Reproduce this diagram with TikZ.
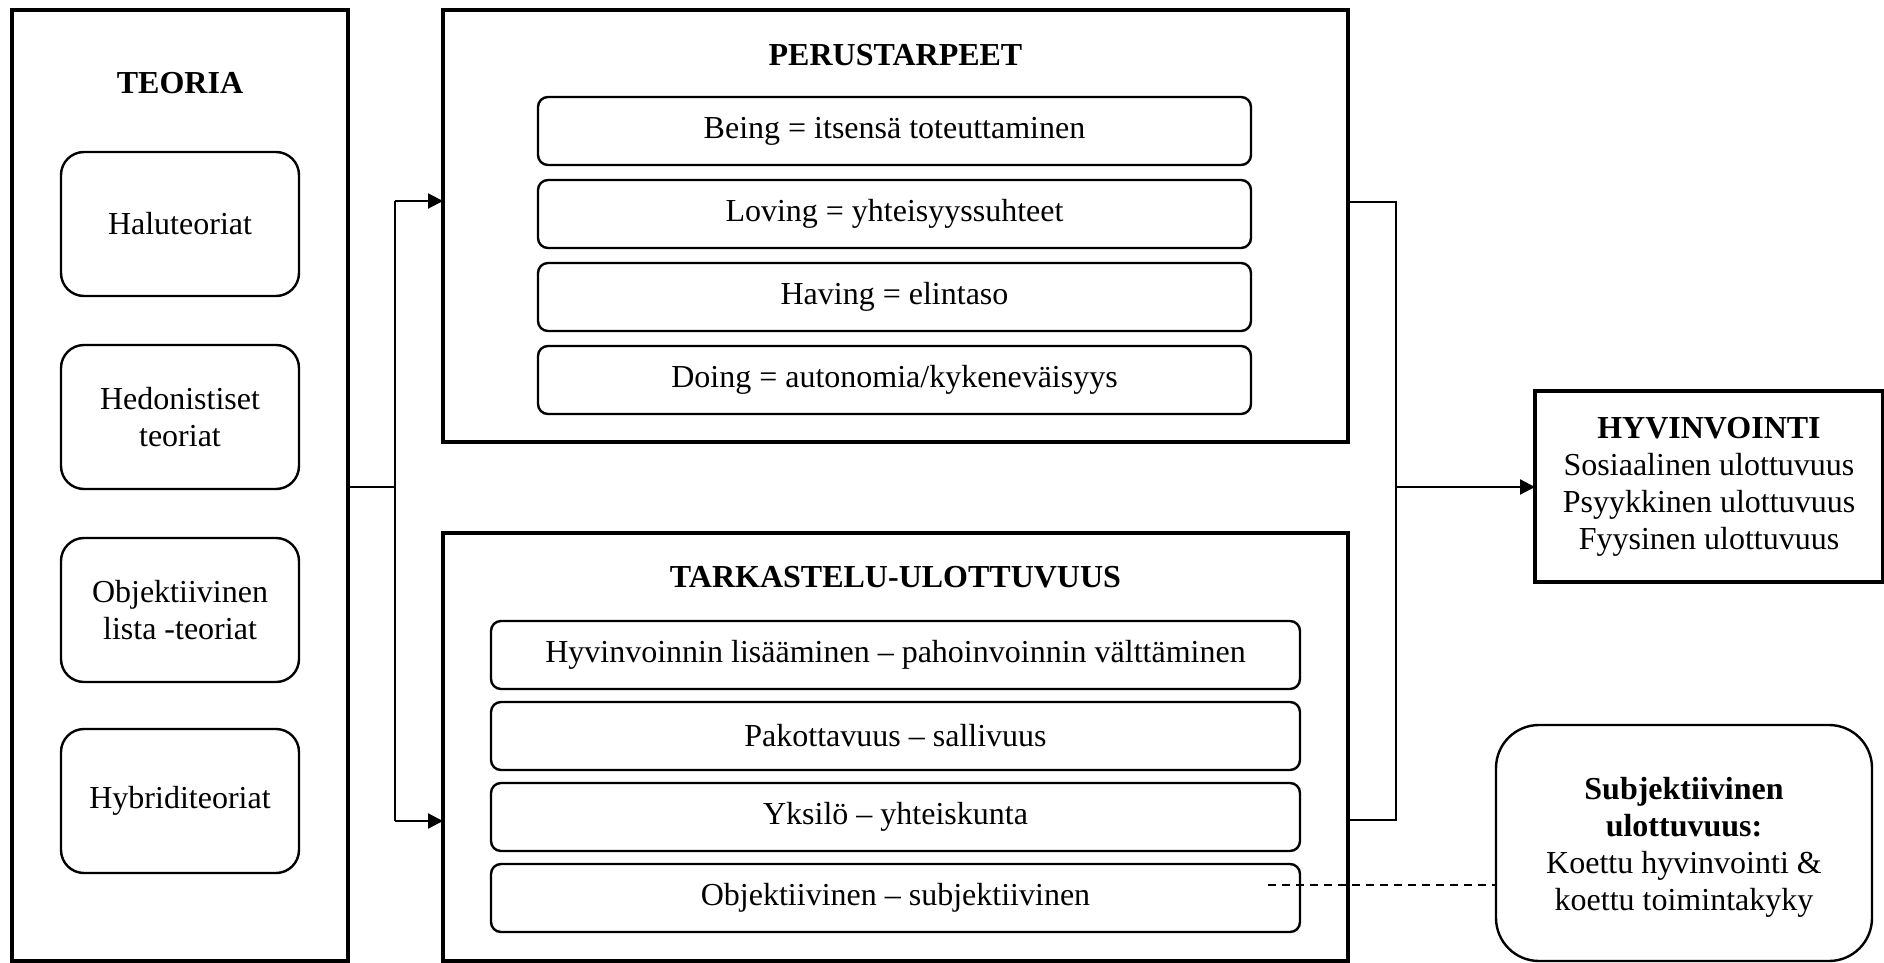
\documentclass[tikz,border=0pt]{standalone}
\usepackage{fontspec}
\setmainfont{Liberation Serif}
\usetikzlibrary{arrows.meta}
\begin{document}
\begin{tikzpicture}[x=1pt,y=-1pt,
  every node/.style={font=\fontsize{32}{37}\selectfont, inner sep=0pt, outer sep=0pt},
  bigbox/.style={draw, line width=3.8pt},
  theorybox/.style={draw, line width=2.4pt, rounded corners=23pt, minimum width=238pt, minimum height=144pt, align=center},
  itembox/.style={draw, line width=2.4pt, rounded corners=10pt, minimum height=68pt, align=center},
  title/.style={font=\fontsize{32}{37}\selectfont\bfseries},
  conn/.style={line width=2.2pt},
  arr/.style={-{Triangle[length=15pt,width=15pt]}},
  dline/.style={line width=2pt, dash pattern=on 8pt off 6pt}
]
\useasboundingbox (0,0) rectangle (1884,963);
% TEORIA
\node[bigbox, minimum width=336pt, minimum height=951pt] (teoria) at (180,485.5) {};
\node[title] (teoriaT) at (180,83) {TEORIA};
\node[theorybox] (halu) at (180,224) {Haluteoriat};
\node[theorybox] (hedo) at (180,417) {Hedonistiset\\teoriat};
\node[theorybox] (obj) at (180,610) {Objektiivinen\\lista -teoriat};
\node[theorybox] (hyb) at (180,801) {Hybriditeoriat};
% PERUSTARPEET
\node[bigbox, minimum width=905pt, minimum height=432pt] (perus) at (895.5,226) {};
\node[title] (perusT) at (895.5,55) {PERUSTARPEET};
\node[itembox, minimum width=713pt] (being) at (894.5,131) {Being = itsensä toteuttaminen};
\node[itembox, minimum width=713pt] (loving) at (894.5,214) {Loving = yhteisyyssuhteet};
\node[itembox, minimum width=713pt] (having) at (894.5,297) {Having = elintaso};
\node[itembox, minimum width=713pt] (doing) at (894.5,380) {Doing = autonomia/kykeneväisyys};
% TARKASTELU-ULOTTUVUUS
\node[bigbox, minimum width=905pt, minimum height=428pt] (tark) at (895.5,747) {};
\node[title] (tarkT) at (895.5,577) {TARKASTELU-ULOTTUVUUS};
\node[itembox, minimum width=809pt] (t1) at (895.5,655) {Hyvinvoinnin lisääminen – pahoinvoinnin välttäminen};
\node[itembox, minimum width=809pt] (t2) at (895.5,736) {Pakottavuus – sallivuus};
\node[itembox, minimum width=809pt] (t3) at (895.5,817) {Yksilö – yhteiskunta};
\node[itembox, minimum width=809pt] (t4) at (895.5,898) {Objektiivinen – subjektiivinen};
% HYVINVOINTI
\node[draw, line width=4pt, minimum width=348pt, minimum height=191pt, align=center] (hyv) at (1709,486.5)
  {\textbf{HYVINVOINTI}\\Sosiaalinen ulottuvuus\\Psyykkinen ulottuvuus\\Fyysinen ulottuvuus};
% Subjektiivinen
\node[draw, line width=2.4pt, rounded corners=43pt, minimum width=376pt, minimum height=236pt, align=center] (sub) at (1684,843) {};
\node[align=center] (subT) at (1684,847)
  {\textbf{Subjektiivinen}\\\textbf{ulottuvuus:}\\Koettu hyvinvointi \&\\koettu toimintakyky};
% connectors left
\coordinate (jl) at (395,487);
\coordinate (jlt) at (395,201);
\coordinate (jlb) at (395,821);
\draw[conn] (teoria.east |- jl) -- (jl);
\draw[conn] (jlt) -- (jlb);
\draw[conn,arr] (jlt) -- (perus.west |- jlt);
\draw[conn,arr] (jlb) -- (tark.west |- jlb);
% connectors right
\coordinate (jr) at (1396,487);
\coordinate (jrt) at (1396,202);
\coordinate (jrb) at (1396,820);
\draw[conn] (perus.east |- jrt) -- (jrt) -- (jrb) -- (tark.east |- jrb);
\draw[conn,arr] (jr) -- (hyv.west |- jr);
% dashed
\coordinate (ds) at (1268,885);
\draw[dline] (ds) -- (sub.west |- ds);
\end{tikzpicture}
\end{document}
